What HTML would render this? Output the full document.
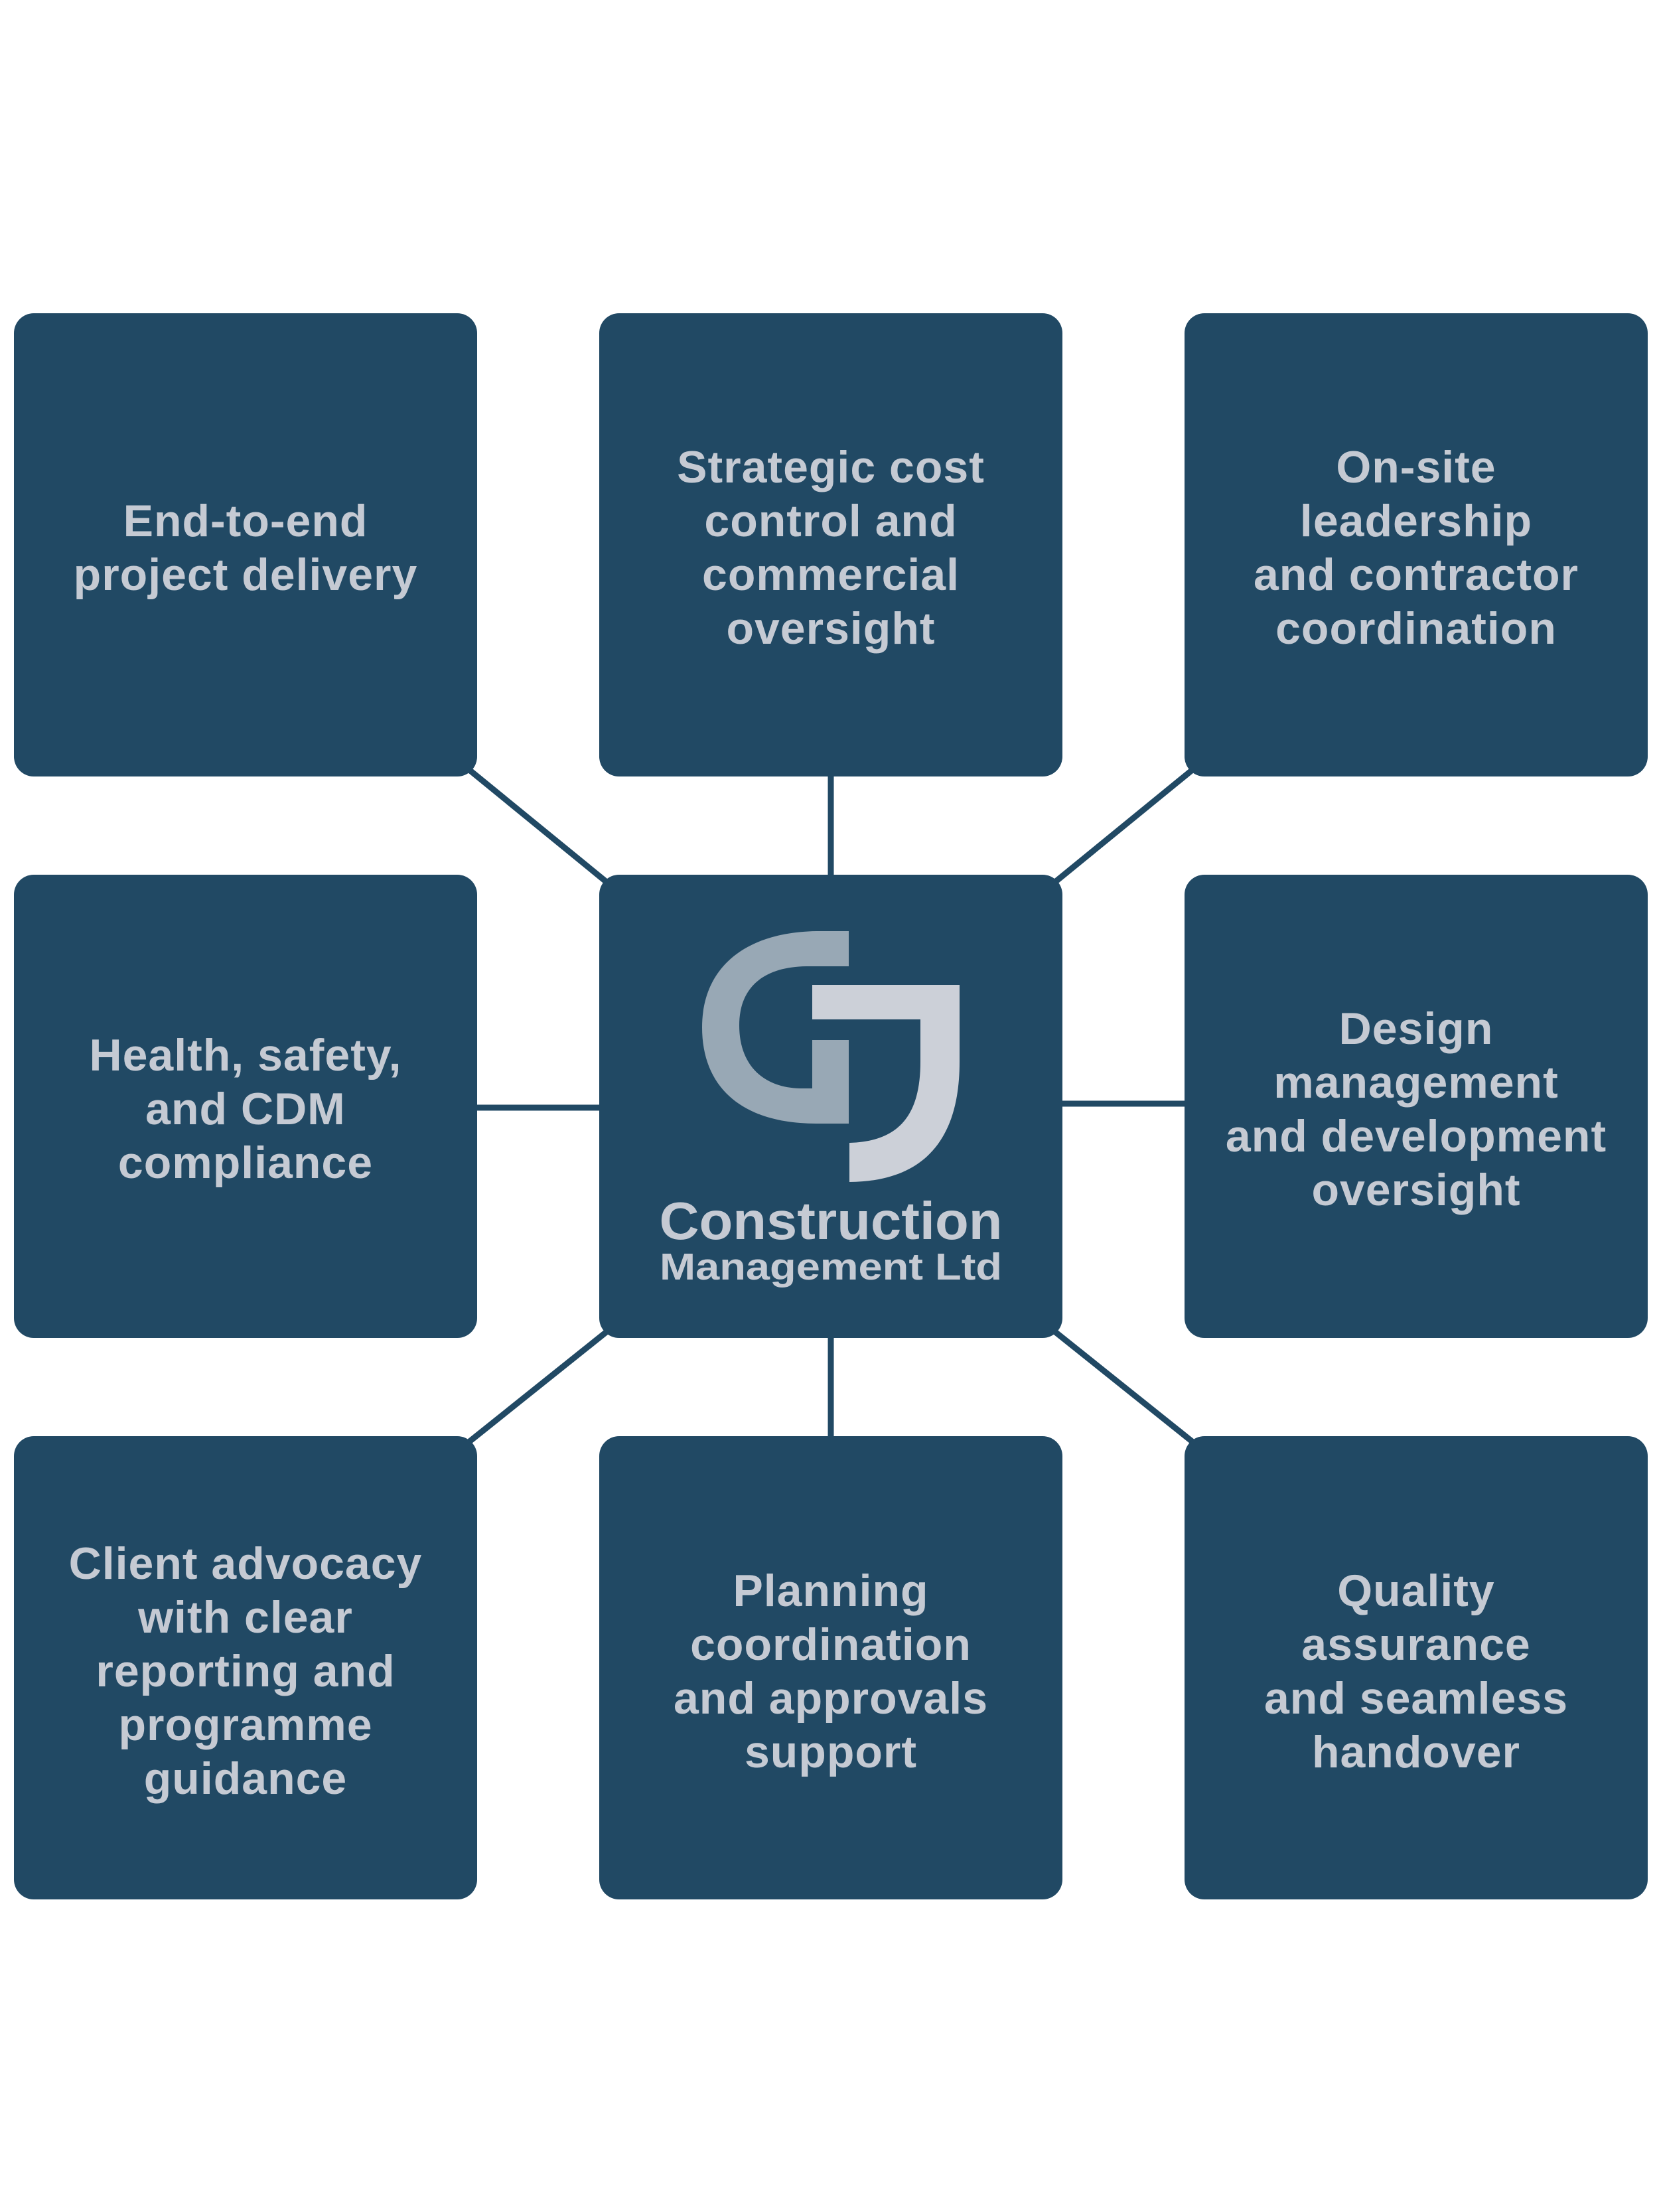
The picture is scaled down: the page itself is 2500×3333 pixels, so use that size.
<!DOCTYPE html>
<html><head><meta charset="utf-8"><style>
html,body{margin:0;padding:0;background:#fff}
svg{display:block}
text{font-family:"Liberation Sans",Arial,sans-serif;font-weight:bold;fill:#c5cad3;text-anchor:middle}
.t{letter-spacing:1px}
</style></head><body>
<svg width="2500" height="3333" viewBox="0 0 2500 3333" xmlns="http://www.w3.org/2000/svg">
<g stroke="#214964" stroke-width="9">
<line x1="1252" y1="1100" x2="1252" y2="2230"/>
<line x1="650" y1="1669" x2="1252" y2="1669"/>
<line x1="1252" y1="1663" x2="1850" y2="1663"/>
<line x1="690" y1="1146" x2="930" y2="1342"/>
<line x1="1814" y1="1146" x2="1574" y2="1342"/>
<line x1="690" y1="2186" x2="930" y2="1994"/>
<line x1="1814" y1="2186" x2="1574" y2="1994"/>
</g>
<g fill="#214964">
<rect x="21" y="472" width="698" height="698" rx="30"/>
<rect x="903" y="472" width="698" height="698" rx="30"/>
<rect x="1785" y="472" width="698" height="698" rx="30"/>
<rect x="21" y="1318" width="698" height="698" rx="30"/>
<rect x="903" y="1318" width="698" height="698" rx="30"/>
<rect x="1785" y="1318" width="698" height="698" rx="30"/>
<rect x="21" y="2164" width="698" height="698" rx="30"/>
<rect x="903" y="2164" width="698" height="698" rx="30"/>
<rect x="1785" y="2164" width="698" height="698" rx="30"/>
</g>
<g font-size="68" class="t">
<text x="370" y="808">End-to-end</text>
<text x="370" y="889">project delivery</text>

<text x="1252" y="727">Strategic cost</text>
<text x="1252" y="808">control and</text>
<text x="1252" y="889">commercial</text>
<text x="1252" y="970">oversight</text>

<text x="2134" y="727">On-site</text>
<text x="2134" y="808">leadership</text>
<text x="2134" y="889">and contractor</text>
<text x="2134" y="970">coordination</text>

<text x="370" y="1613">Health, safety,</text>
<text x="370" y="1694">and CDM</text>
<text x="370" y="1775">compliance</text>

<text x="2134" y="1573">Design</text>
<text x="2134" y="1654">management</text>
<text x="2134" y="1735">and development</text>
<text x="2134" y="1816">oversight</text>

<text x="370" y="2379">Client advocacy</text>
<text x="370" y="2460">with clear</text>
<text x="370" y="2541">reporting and</text>
<text x="370" y="2622">programme</text>
<text x="370" y="2703">guidance</text>

<text x="1252" y="2420">Planning</text>
<text x="1252" y="2501">coordination</text>
<text x="1252" y="2582">and approvals</text>
<text x="1252" y="2663">support</text>

<text x="2134" y="2420">Quality</text>
<text x="2134" y="2501">assurance</text>
<text x="2134" y="2582">and seamless</text>
<text x="2134" y="2663">handover</text>
</g>
<path fill="#98a8b5" d="M1279 1403 L1230 1403 C1120 1405 1058 1460 1058 1548 C1058 1640 1120 1693 1230 1693 L1279 1693 L1279 1567 L1224 1567 L1224 1640 L1205 1640 C1145 1638 1114 1600 1114 1545 C1114 1488 1150 1457 1215 1456 L1279 1456 Z"/>
<path fill="#ccd0d8" d="M1224 1484 L1446 1484 L1446 1600 C1446 1720 1390 1780 1280 1781 L1280 1722 C1355 1720 1387 1680 1387 1600 L1387 1536 L1224 1536 Z"/>
<text x="1252" y="1867" font-size="80" textLength="517" lengthAdjust="spacingAndGlyphs">Construction</text>
<text x="1252" y="1928" font-size="57" textLength="516" lengthAdjust="spacingAndGlyphs">Management Ltd</text>
</svg>
</body></html>
